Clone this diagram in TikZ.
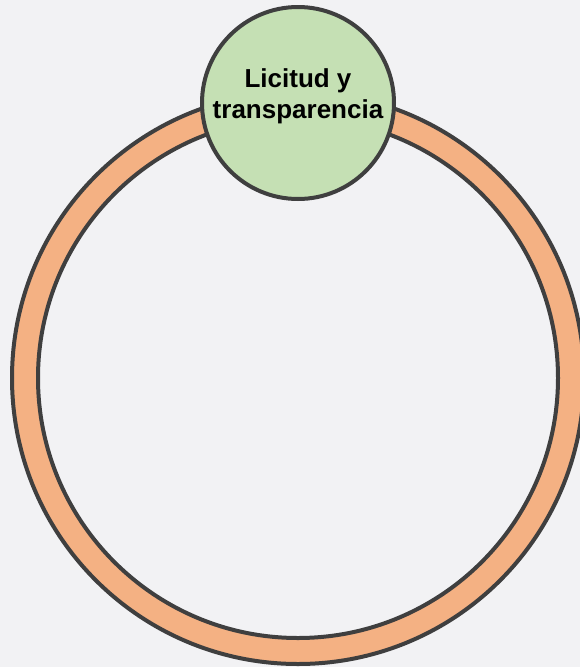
\documentclass[tikz,border=0pt]{standalone}
\usepackage{fontspec}
\setmainfont{Liberation Sans}
\usetikzlibrary{positioning}

\definecolor{ringorange}{HTML}{F4B183}
\definecolor{topicgreen}{HTML}{C5E0B4}
\definecolor{edgegray}{HTML}{3F3F3F}
\definecolor{paper}{HTML}{F2F2F4}

\tikzset{
  ringline/.style={draw=edgegray, line width=4pt},
  topic/.style={circle, ringline, fill=topicgreen, minimum size=192pt, inner sep=0pt},
  topictext/.style={align=center, font=\bfseries\fontsize{26}{31}\selectfont, text=black}
}

\begin{document}
\begin{tikzpicture}[x=1pt,y=-1pt]
   % background
   \fill[paper] (0,0) rectangle (580,667);
   \useasboundingbox (0,0) rectangle (580,667);

   % ring
   \fill[ringorange, even odd rule] (298,378) circle (286) (298,378) circle (260);
   \draw[ringline] (298,378) circle (286);
   \draw[ringline] (298,378) circle (260);

   % topic on top of the ring
   \node[topic] (licitud) at (298,103) {};
   \node[topictext] (licitudtext) at ([yshift=7pt]licitud.center) {Licitud y\\transparencia};
\end{tikzpicture}
\end{document}
